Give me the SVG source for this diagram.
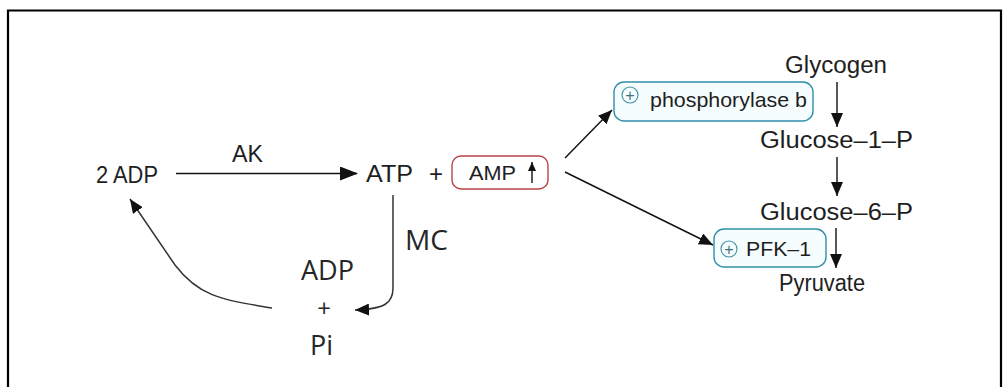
<svg xmlns="http://www.w3.org/2000/svg" width="1004" height="387" viewBox="0 0 1004 387">
<style>
.lbl{font-family:"Liberation Sans",Arial,sans-serif;fill:#1e1e1e}
.cal{font-family:"Open Sans","Liberation Sans",sans-serif;fill:#262626}
.ln{fill:none;stroke:#111;stroke-width:1.4}
.gl{fill:none;stroke:#333;stroke-width:1.5}
.enz{fill:#f6fdff;stroke:#2f8fa9;stroke-width:1.4}
.pl{fill:none;stroke:#3b8ea5;stroke-width:1.1}
.plt{font-family:"Liberation Sans",Arial,sans-serif;fill:#3b6f80}
</style>
<defs>
<marker id="ah" markerUnits="userSpaceOnUse" markerWidth="18" markerHeight="14" refX="17" refY="7" orient="auto" viewBox="0 0 18 14">
<path d="M0,0 L18,7 L0,14 z" fill="#111"/>
</marker>
<marker id="ahs" markerUnits="userSpaceOnUse" markerWidth="14" markerHeight="12" refX="14" refY="6" orient="auto" viewBox="0 0 14 12">
<path d="M0,0 L14,6 L0,12 z" fill="#111"/>
</marker>
<marker id="ahu" markerUnits="userSpaceOnUse" markerWidth="9" markerHeight="8" refX="9" refY="4" orient="auto" viewBox="0 0 9 8">
<path d="M0,0 L9,4 L0,8 z" fill="#111"/>
</marker>
</defs>
<rect width="1004" height="387" fill="#fff"/>
<path d="M8,387 L8,10.5 L1001,10.5 L1001,387" fill="none" stroke="#000" stroke-width="2.2"/>

<g id="connectors">
<line class="ln" x1="176" y1="173.5" x2="357" y2="173.5" marker-end="url(#ah)"/>
<path class="gl" d="M393,195 L393,288 C393,303 385,309 355,310" marker-end="url(#ahs)"/>
<path class="gl" d="M272,308 C225,300 200,298 175,265 L130,199" marker-end="url(#ahs)"/>
<line class="ln" x1="565" y1="158" x2="612" y2="110" marker-end="url(#ahs)"/>
<line class="ln" x1="565" y1="172" x2="713" y2="245" marker-end="url(#ahs)"/>
<line class="ln" x1="837" y1="82" x2="837" y2="127" marker-end="url(#ahs)"/>
<line class="ln" x1="837" y1="157" x2="837" y2="196" marker-end="url(#ahs)"/>
<line class="ln" x1="836" y1="228" x2="836" y2="268" marker-end="url(#ahs)"/>
</g>

<g id="adp2"><text class="lbl" x="96" y="183" font-size="23" textLength="62" lengthAdjust="spacingAndGlyphs">2 ADP</text></g>
<g id="ak"><text class="lbl" x="232" y="162" font-size="23" textLength="31" lengthAdjust="spacingAndGlyphs">AK</text></g>
<g id="atp"><text class="lbl" x="366" y="182" font-size="23" textLength="47" lengthAdjust="spacingAndGlyphs">ATP</text>
<text class="lbl" x="436" y="182" font-size="24" text-anchor="middle">+</text></g>
<g id="amp">
<rect x="452" y="156" width="96" height="33" rx="9" fill="#fff" stroke="#b8434a" stroke-width="1.4"/>
<text class="lbl" x="469" y="180" font-size="21" textLength="47" lengthAdjust="spacingAndGlyphs">AMP</text>
<line class="ln" x1="532" y1="183" x2="532" y2="162" stroke-width="2" marker-end="url(#ahu)"/>
</g>
<g id="mc"><text class="cal" x="405" y="250" font-size="28" textLength="43" lengthAdjust="spacingAndGlyphs">MC</text></g>
<g id="adppi">
<text class="cal" x="301" y="280" font-size="27" textLength="53" lengthAdjust="spacingAndGlyphs">ADP</text>
<text class="cal" x="324" y="317" font-size="24" text-anchor="middle">+</text>
<text class="cal" x="310" y="355" font-size="27" textLength="23" lengthAdjust="spacingAndGlyphs">Pi</text>
</g>
<g id="phosphorylase">
<rect class="enz" x="614" y="82" width="199" height="39" rx="10"/>
<circle class="pl" cx="630" cy="95" r="8"/>
<text class="plt" x="630" y="100.5" font-size="16" text-anchor="middle">+</text>
<text class="lbl" x="650" y="107" font-size="21" textLength="157" lengthAdjust="spacingAndGlyphs">phosphorylase b</text>
</g>
<g id="pfk">
<rect class="enz" x="714" y="229" width="112" height="38" rx="10"/>
<circle class="pl" cx="729" cy="249" r="8"/>
<text class="plt" x="729" y="254.5" font-size="16" text-anchor="middle">+</text>
<text class="lbl" x="746" y="256" font-size="21" textLength="65" lengthAdjust="spacingAndGlyphs">PFK–1</text>
</g>
<g id="glycogen"><text class="lbl" x="785" y="73" font-size="23" textLength="102" lengthAdjust="spacingAndGlyphs">Glycogen</text></g>
<g id="g1p"><text class="lbl" x="760" y="148" font-size="23" textLength="153" lengthAdjust="spacingAndGlyphs">Glucose–1–P</text></g>
<g id="g6p"><text class="lbl" x="760" y="220" font-size="23" textLength="153" lengthAdjust="spacingAndGlyphs">Glucose–6–P</text></g>
<g id="pyruvate"><text class="lbl" x="779" y="291" font-size="23" textLength="86" lengthAdjust="spacingAndGlyphs">Pyruvate</text></g>
</svg>
